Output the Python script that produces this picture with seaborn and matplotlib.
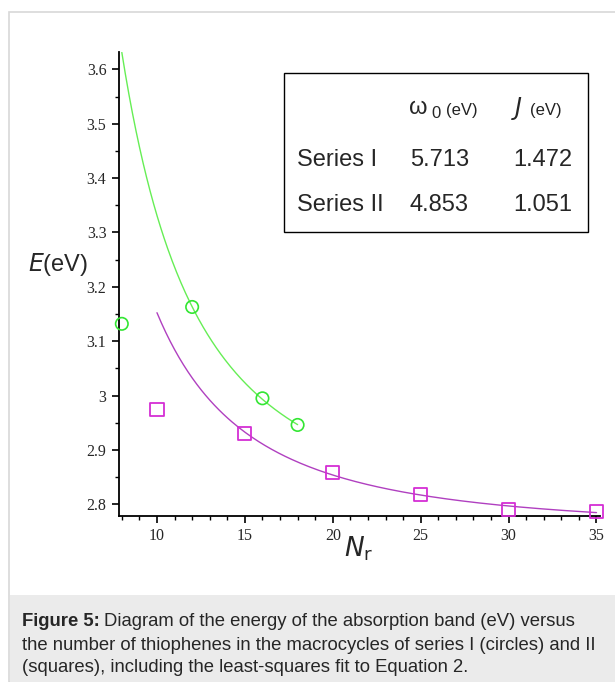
import numpy as np
import pandas as pd
import seaborn as sns
from matplotlib import pyplot as plt
from matplotlib.patches import Rectangle
from matplotlib.ticker import MultipleLocator, FuncFormatter

# measured band energies
n_series1 = [8, 12, 16, 18]
e_series1 = [3.132, 3.163, 2.995, 2.946]
n_series2 = [10, 15, 20, 25, 30, 35]
e_series2 = [2.975, 2.931, 2.859, 2.818, 2.791, 2.787]

# fit parameters (Equation 2), as given in the table
series_names = ["Series I", "Series II"]
omega0 = [5.713, 4.853]
coupling = [1.472, 1.051]
fit_ranges = [(8, 18), (10, 35)]

green = "#33e633"
magenta = "#d42ed4"
curve_colors = ["#66ee55", "#b040c0"]

sns.set_style("ticks")
plt.rcParams["font.family"] = ["Liberation Sans", "DejaVu Sans"]

fig = plt.figure(figsize=(6.15, 6.82), dpi=100)
fig.patch.set_facecolor("white")

# page frame and caption strip
fig.add_artist(Rectangle((9 / 615, 0), 1, 1 - 12 / 682, transform=fig.transFigure,
                         facecolor="white", edgecolor="#d8d8d8", lw=1.2, zorder=0))
fig.add_artist(Rectangle((10 / 615, 0), 1, 1 - 595 / 682, transform=fig.transFigure,
                         facecolor="#ebebeb", edgecolor="none", zorder=0))

ax = fig.add_axes([119 / 615, 1 - 516 / 682, (600 - 119) / 615, (516 - 52) / 682])
ax.set_facecolor("none")

# fitted curves E = w0 - 2J cos(2pi/N)
for name, w0, J, (lo, hi), c in zip(series_names, omega0, coupling, fit_ranges, curve_colors):
    n = np.linspace(lo, hi, 200)
    fit = pd.DataFrame({"N": n, "E": w0 - 2 * J * np.cos(2 * np.pi / n)})
    sns.lineplot(data=fit, x="N", y="E", color=c, lw=1.0, ax=ax)

sns.scatterplot(x=n_series1, y=e_series1, marker="o", s=80, facecolor="none",
                edgecolor=green, linewidth=1.2, ax=ax, zorder=3, clip_on=False)
sns.scatterplot(x=n_series2, y=e_series2, marker="s", s=90, facecolor="none",
                edgecolor=magenta, linewidth=1.3, ax=ax, zorder=3, clip_on=False)

ax.set_xlim(7.84, 35.2)
ax.set_ylim(2.7785, 3.632)
sns.despine(ax=ax)
for s in ["left", "bottom"]:
    ax.spines[s].set_linewidth(1.3)
    ax.spines[s].set_color("black")

ax.xaxis.set_major_locator(MultipleLocator(5))
ax.xaxis.set_minor_locator(MultipleLocator(1))
ax.yaxis.set_major_locator(MultipleLocator(0.1))
ax.yaxis.set_minor_locator(MultipleLocator(0.05))
ax.yaxis.set_major_formatter(FuncFormatter(lambda v, p: f"{v:.1f}".replace("3.0", "3")))
ax.tick_params(which="major", length=5, width=1.2, color="black", labelsize=11.5, pad=4)
ax.tick_params(which="minor", length=3, width=1.0, color="black")
for lab in ax.get_xticklabels() + ax.get_yticklabels():
    lab.set_family("Liberation Serif")

ax.set_xlabel("")
ax.set_ylabel("")
fig.text(28 / 615, 1 - 264 / 682, r"$E$(eV)", fontsize=17, va="center", ha="left",
         math_fontfamily="dejavusans")
fig.text(344 / 615, 1 - 549 / 682, r"$N_{\rm r}$", fontsize=19, va="center", ha="left",
         math_fontfamily="dejavusans")

# parameter table
fig.add_artist(Rectangle((284 / 615, 1 - 232 / 682), (588 - 284) / 615, (232 - 73) / 682,
                         transform=fig.transFigure, facecolor="white",
                         edgecolor="black", lw=1.0, zorder=5))


def ftext(x, y, s, **kw):
    fig.text(x / 615, 1 - y / 682, s, va="center", ha="left", zorder=6, **kw)


ftext(409, 108, "ω", fontsize=17)
ftext(431, 114, "0", fontsize=12)
ftext(446, 110, "(eV)", fontsize=12, color="#222222")
ftext(511, 108, r"$J$", fontsize=17, math_fontfamily="dejavusans")
ftext(530, 110, "(eV)", fontsize=12, color="#222222")
row_y = [160, 205]
for name, w0, J, y in zip(series_names, omega0, coupling, row_y):
    ftext(297, y, name, fontsize=17)
    ftext(410, y, f"{w0:.3f}", fontsize=17)
    ftext(513, y, f"{J:.3f}", fontsize=17)

# caption
cap_lines = [
    "Diagram of the energy of the absorption band (eV) versus",
    "the number of thiophenes in the macrocycles of series I (circles) and II",
    "(squares), including the least-squares fit to Equation 2.",
]
t = fig.text(22 / 615, 1 - 621 / 682, "Figure 5:", fontsize=13.3, fontweight="bold",
             va="center", ha="left")
fig.canvas.draw()
bb = t.get_window_extent()
fig.text(bb.x1 / 615 + 4 / 615, 1 - 621 / 682, cap_lines[0], fontsize=13.3, va="center", ha="left")
fig.text(22 / 615, 1 - 645 / 682, cap_lines[1], fontsize=13.3, va="center", ha="left")
fig.text(22 / 615, 1 - 668 / 682, cap_lines[2], fontsize=13.3, va="center", ha="left")

fig.savefig("out.png", dpi=100)
